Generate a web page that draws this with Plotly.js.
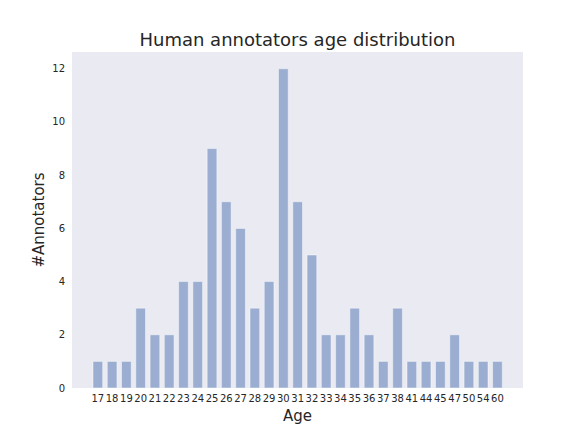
<!DOCTYPE html>
<html>
<head>
<meta charset="utf-8">
<script src="https://cdn.plot.ly/plotly-3.0.1.min.js"></script>
<style>
  body { margin: 0; background: #fff; }
  #plotArea { width: 581px; height: 436px; }
</style>
</head>
<body>
<div id="plotArea"></div>
<script>
// ages present among annotators, and how many annotators had each
var ages = ["17", "18", "19", "20", "21", "22", "23", "24", "25", "26", "27", "28", "29", "30",
            "31", "32", "33", "34", "35", "36", "37", "38", "41", "44", "45", "47", "50", "54", "60"];
var counts = [1, 1, 1, 3, 2, 2, 4, 4, 9, 7, 6, 3, 4, 12,
              7, 5, 2, 2, 3, 2, 1, 3, 1, 1, 1, 2, 1, 1, 1];
var yTicks = [0, 2, 4, 6, 8, 10, 12];

var trace = {
    x: ages,
    y: counts,
    type: "bar",
    marker: {
        color: "rgba(76,114,176,0.5)",
        line: {color: "rgba(255,255,255,0.45)", width: 1}
    },
    hoverinfo: "x+y"
};

var font = "DejaVu Sans, sans-serif";

var layout = {
    width: 581,
    height: 436,
    margin: {l: 72, r: 58, t: 52, b: 48},
    paper_bgcolor: "#ffffff",
    plot_bgcolor: "#EAEAF2",
    bargap: 0.32,
    showlegend: false,
    font: {family: font, color: "#262626", size: 10},
    title: {
        text: "Human annotators age distribution",
        font: {family: font, size: 18, color: "#262626"},
        x: 0.512, xanchor: "center",
        y: 0.895, yanchor: "bottom"
    },
    xaxis: {
        type: "category",
        range: [-1.81, 29.79],
        showgrid: false,
        zeroline: false,
        showline: false,
        ticks: "",
        tickangle: 0,
        ticklabelstandoff: 3,
        tickfont: {family: font, size: 10, color: "#262626"},
        title: {text: "Age", font: {family: font, size: 15, color: "#262626"}, standoff: 7}
    },
    yaxis: {
        range: [0, 12.63],
        tickvals: yTicks,
        showgrid: false,
        zeroline: false,
        showline: false,
        ticks: "",
        ticklabelstandoff: 6,
        tickfont: {family: font, size: 10, color: "#262626"},
        title: {text: "#Annotators", font: {family: font, size: 15, color: "#262626"}, standoff: 4}
    }
};

Plotly.newPlot("plotArea", [trace], layout, {displayModeBar: false, staticPlot: true});
</script>
</body>
</html>
